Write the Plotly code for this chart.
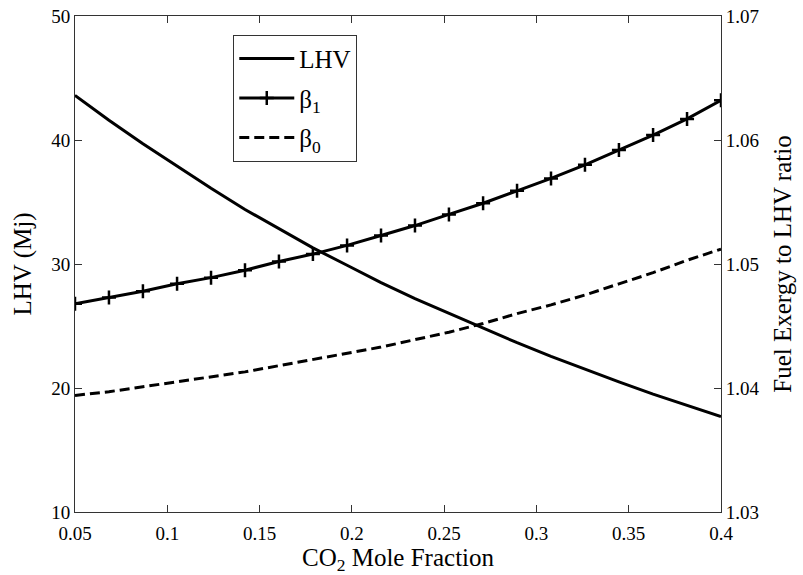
import plotly.graph_objects as go

# CO2 mole fraction samples
co2_fraction = [0.05, 0.0684, 0.0868, 0.1053, 0.1237, 0.1421, 0.1605, 0.1789, 0.1974, 0.2158,
                0.2342, 0.2526, 0.2711, 0.2895, 0.3079, 0.3263, 0.3447, 0.3632, 0.3816, 0.4]

# LHV (Mj), left axis
lhv = [43.6, 41.6, 39.7, 37.9, 36.1, 34.4, 32.85, 31.3, 29.9, 28.5,
       27.2, 26.0, 24.8, 23.65, 22.55, 21.5, 20.5, 19.5, 18.6, 17.7]

# Fuel exergy to LHV ratio, right axis
beta1 = [1.0468, 1.0473, 1.0478, 1.0484, 1.0489, 1.0495, 1.0502, 1.0508, 1.0515, 1.0523,
         1.0531, 1.0540, 1.0549, 1.0559, 1.0569, 1.0580, 1.0592, 1.0604, 1.0617, 1.0632]
beta0 = [1.0394, 1.0397, 1.0401, 1.0405, 1.0409, 1.0413, 1.0418, 1.0423, 1.0428, 1.0433,
         1.0439, 1.0445, 1.0452, 1.0460, 1.0467, 1.0475, 1.0484, 1.0493, 1.0503, 1.0512]

x_tickvals = [0.05, 0.1, 0.15, 0.2, 0.25, 0.3, 0.35, 0.4]
x_ticktext = ["0.05", "0.1", "0.15", "0.2", "0.25", "0.3", "0.35", "0.4"]
y1_tickvals = [10, 20, 30, 40, 50]
y2_tickvals = [1.03, 1.04, 1.05, 1.06, 1.07]
y2_ticktext = ["1.03", "1.04", "1.05", "1.06", "1.07"]

FONT = "'Liberation Serif', 'Times New Roman', Times, serif"
AX = "#333333"
TICKF = dict(family=FONT, size=19, color="black")
TITLEF = dict(family=FONT, size=25, color="black")

fig = go.Figure()
fig.add_trace(go.Scatter(x=co2_fraction, y=lhv, mode="lines", name="LHV",
                         legendgroup="a",
                         line=dict(color="black", width=3), yaxis="y"))
fig.add_trace(go.Scatter(x=co2_fraction, y=beta1, mode="lines+markers", name="β<sub>1</sub>",
                         legendgroup="b",
                         line=dict(color="black", width=3),
                         marker=dict(symbol="cross-thin", size=10,
                                     line=dict(color="black", width=2.5)),
                         yaxis="y2"))
fig.add_trace(go.Scatter(x=co2_fraction, y=beta0, mode="lines", name="β<sub>0</sub>",
                         legendgroup="c",
                         line=dict(color="black", width=3, dash="10px,5px"), yaxis="y2"))

fig.update_layout(
    width=803, height=575,
    margin=dict(l=75, r=82, t=16, b=63, autoexpand=False),
    paper_bgcolor="white", plot_bgcolor="white",
    font=dict(family=FONT, color="black", size=19),
    showlegend=True,
    legend=dict(x=0.245, y=0.962, xanchor="left", yanchor="top",
                bgcolor="white", bordercolor=AX, borderwidth=1,
                font=dict(family=FONT, size=25, color="black"), itemwidth=55,
                tracegroupgap=4, traceorder="grouped"),
    xaxis=dict(range=[0.05, 0.4], tickvals=x_tickvals, ticktext=x_ticktext,
               ticks="inside", ticklen=7, tickcolor=AX, showline=True, linecolor=AX,
               linewidth=1, mirror="ticks", showgrid=False, zeroline=False,
               tickfont=TICKF, ticklabelstandoff=4, automargin=False,
               title=dict(text="CO<sub>2</sub> Mole Fraction", font=TITLEF, standoff=4)),
    yaxis=dict(range=[10, 50], tickvals=y1_tickvals, ticks="inside", ticklen=7,
               tickcolor=AX, showline=True, linecolor=AX, linewidth=1,
               showgrid=False, zeroline=False, tickfont=TICKF, automargin=False,
               title=dict(text="LHV (Mj)", font=TITLEF, standoff=12)),
    yaxis2=dict(range=[1.03, 1.07], tickvals=y2_tickvals, ticktext=y2_ticktext,
                overlaying="y", side="right", ticks="inside", ticklen=7,
                tickcolor=AX, showline=True, linecolor=AX, linewidth=1,
                showgrid=False, zeroline=False, tickfont=TICKF, automargin=False,
                title=dict(text="Fuel Exergy to LHV ratio", font=TITLEF, standoff=14)),
)

fig.write_html("out.html")
